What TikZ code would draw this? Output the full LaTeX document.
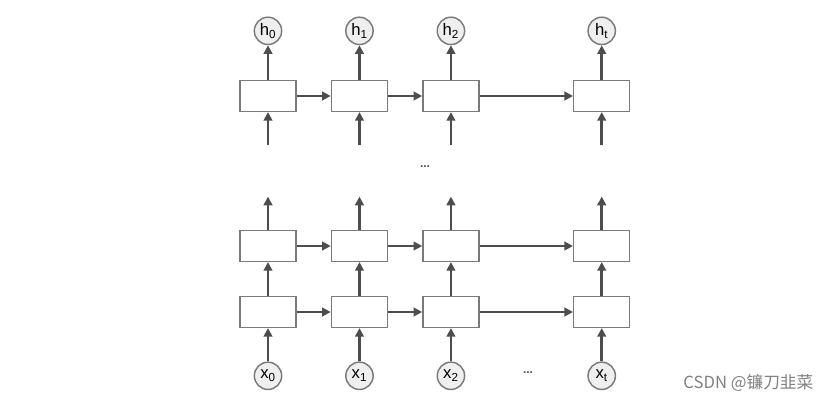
\documentclass[tikz,border=0pt]{standalone}
\usepackage{fontspec}
\setmainfont{Liberation Sans}
\newfontfamily\cjkfont{Noto Sans CJK SC}
\usepackage{tikz}
\usetikzlibrary{arrows.meta,positioning}
\definecolor{linex}{HTML}{4D4D4D}
\definecolor{edgex}{HTML}{7A7A7A}
\definecolor{fillx}{HTML}{EFEFEF}
\tikzset{
  cell/.style={draw=edgex,line width=1.1pt,fill=white,minimum width=42pt,minimum height=23pt,inner sep=0pt},
  io/.style={circle,draw=edgex,line width=1.1pt,fill=fillx,minimum size=20.5pt,inner sep=0pt,font=\fontsize{12.5}{14}\selectfont},
  ar/.style={-{Triangle[length=6.5pt,width=6.5pt]},line width=1.9pt,linex}
}
\begin{document}
\begin{tikzpicture}[x=0.75pt,y=-0.75pt]
\useasboundingbox (0,0) rectangle (832,400);
\node[cell] (a1) at (268,96) {};
\node[cell,right=25.5pt of a1] (a2) {};
\node[cell,right=25.5pt of a2] (a3) {};
\node[cell,right=70pt of a3] (a4) {};
\node[cell] (b1) at (268,246) {};
\node[cell,right=25.5pt of b1] (b2) {};
\node[cell,right=25.5pt of b2] (b3) {};
\node[cell,right=70pt of b3] (b4) {};
\node[cell] (c1) at (268,312) {};
\node[cell,right=25.5pt of c1] (c2) {};
\node[cell,right=25.5pt of c2] (c3) {};
\node[cell,right=70pt of c3] (c4) {};
\foreach \i/\s in {1/0,2/1,3/2,4/t}{
  \node[io,above=26pt of a\i] (h\i) {h\textsubscript{\s}};
  \node[io,below=25pt of c\i] (x\i) {x\textsubscript{\s}};
  \coordinate[below=25pt of a\i] (p\i);
  \coordinate[above=25pt of b\i] (q\i);
  \draw[ar] (p\i)--(a\i);
  \draw[ar] (a\i)--(h\i);
  \draw[ar] (b\i)--(q\i);
  \draw[ar] (c\i)--(b\i);
  \draw[ar] (x\i)--(c\i);
}
\foreach \r in {a,b,c}{
  \foreach \p/\q in {1/2,2/3,3/4}{\draw[ar] (\r\p)--(\r\q);}
}
\node[font=\small\bfseries,text=linex] (d1) at (425,167) {...};
\node[font=\small\bfseries,text=linex] (d2) at (528,373) {...};
\node[anchor=east,font=\cjkfont\fontsize{12.5}{14}\selectfont,text=gray] (wm) at (818,383) {CSDN @镰刀韭菜};
\end{tikzpicture}
\end{document}
